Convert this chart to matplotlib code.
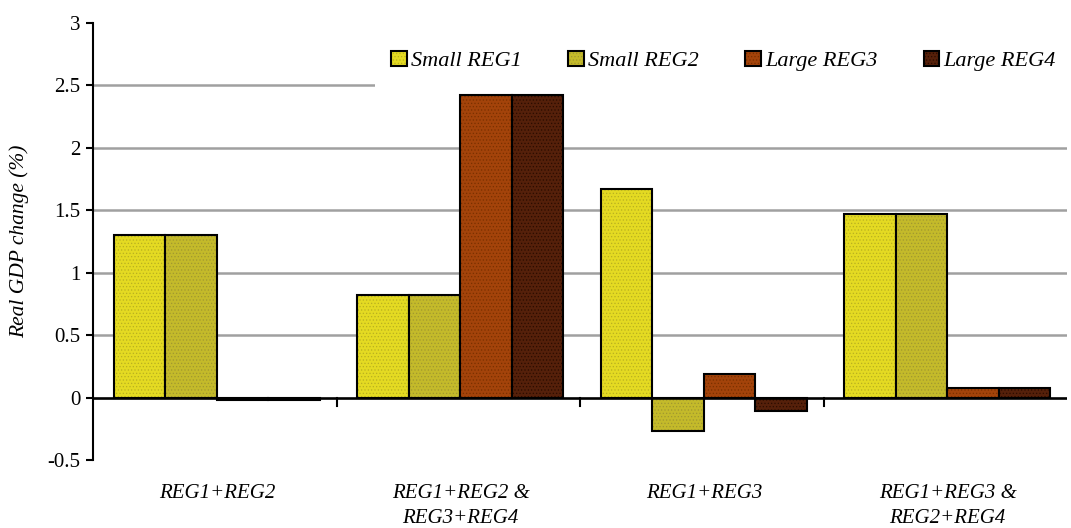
import matplotlib
matplotlib.use("Agg")
import matplotlib.pyplot as plt
from matplotlib.patches import Rectangle
import numpy as np

categories = ["REG1+REG2", "REG1+REG2 &\nREG3+REG4", "REG1+REG3", "REG1+REG3 &\nREG2+REG4"]
series_names = ["Small REG1", "Small REG2", "Large REG3", "Large REG4"]
small_reg1 = [1.30, 0.82, 1.67, 1.47]
small_reg2 = [1.30, 0.82, -0.27, 1.47]
large_reg3 = [-0.02, 2.42, 0.19, 0.08]
large_reg4 = [-0.02, 2.42, -0.11, 0.08]
yticks = [-0.5, 0, 0.5, 1, 1.5, 2, 2.5, 3]
ytick_labels = ["-0.5", "0", "0.5", "1", "1.5", "2", "2.5", "3"]

colors = ["#E4DA22", "#C4BA2A", "#A3430A", "#55200A"]
hatch_colors = ["#B8B020", "#A09830", "#7A3000", "#2A0C00"]

plt.rcParams['font.family'] = ['Liberation Serif', 'DejaVu Serif']
plt.rcParams['hatch.linewidth'] = 0.5

fig = plt.figure(figsize=(10.71, 5.28), dpi=100)
ax = fig.add_axes([93/1071, 1 - 460/528, (1067-93)/1071, (460-23)/528])

x = np.arange(len(categories))
width = 0.2115
data = [small_reg1, small_reg2, large_reg3, large_reg4]
for i, (vals, name) in enumerate(zip(data, series_names)):
    bars = ax.bar(x + (i - 1.5) * width + 0.008, vals, width, color=colors[i], edgecolor='black',
                  linewidth=1.5, label=name, zorder=3, hatch='.....')
    for b in bars:
        b._hatch_color = matplotlib.colors.to_rgba(hatch_colors[i])

ax.set_xlim(-0.5, 3.5)
ax.set_ylim(-0.5, 3)
ax.set_yticks(yticks)
ax.set_yticklabels(ytick_labels, fontsize=15)
ax.yaxis.grid(True, color='#A0A0A0', linewidth=1.8, zorder=0)
gl = ax.get_ygridlines()
gl[0].set_visible(False)
gl[-1].set_visible(False)
ax.set_axisbelow(True)

for s in ['top', 'right', 'bottom']:
    ax.spines[s].set_visible(False)
ax.spines['left'].set_linewidth(1.5)
ax.tick_params(axis='y', direction='out', length=5, width=1.5, pad=4)
ax.axhline(0, color='black', linewidth=1.8, zorder=4)

ax.set_xticks([])
for b in [0.5, 1.5, 2.5]:
    ax.plot([b, b], [0, -0.07], color='black', linewidth=1.5, zorder=4, clip_on=False)

for xi, lab in zip(x, categories):
    ax.text(xi + 0.01, -0.695, lab, ha='center', va='top', fontsize=15, style='italic',
            linespacing=1.38, transform=ax.transData)

ax.set_ylabel("Real GDP change (%)", fontsize=15.5, style='italic', labelpad=13)

# white legend backdrop
ax.add_patch(Rectangle(((375-93)/974, (460-88)/437), (1067-375)/974, 52/437,
                       transform=ax.transAxes, facecolor='white', edgecolor='none', zorder=2))

leg = ax.legend(loc='center right', bbox_to_anchor=(1.007, (460-61)/437), ncol=4, frameon=False,
                prop={'style': 'italic', 'size': 16}, handlelength=0.7, handleheight=0.7,
                handletextpad=0.2, columnspacing=2.08, borderpad=0.3)
leg.set_zorder(5)

fig.savefig("out.png", dpi=100)
